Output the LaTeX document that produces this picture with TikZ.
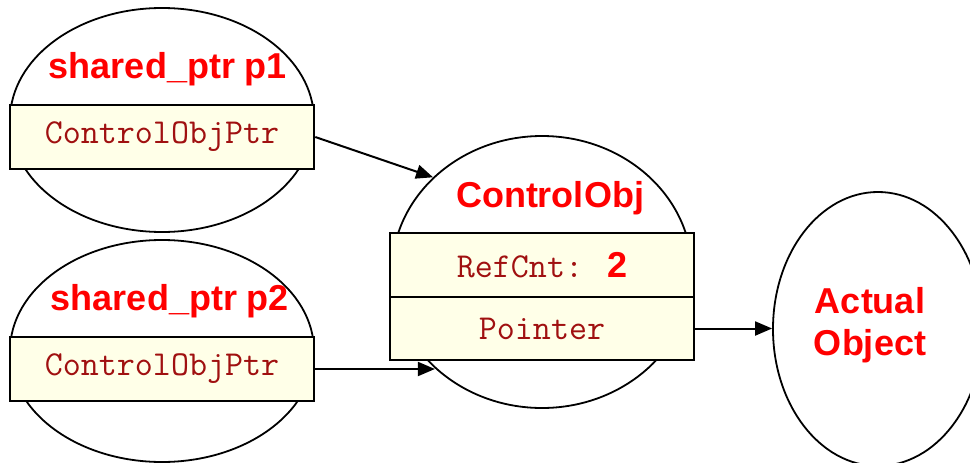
\documentclass[tikz,border=0pt]{standalone}
\usepackage{fontspec}
\setmainfont{Liberation Sans}
\usetikzlibrary{arrows.meta,shapes.geometric}
\definecolor{boxfill}{HTML}{FFFFE8}
\definecolor{codered}{HTML}{A01010}

\begin{document}
\begin{tikzpicture}[x=1pt,y=-1pt,>={Triangle[length=17pt,width=14pt]},
	blob/.style={ellipse,draw=black,line width=1.8pt,inner sep=0pt},
	field/.style={rectangle,draw=black,line width=2.5pt,fill=boxfill,minimum width=304pt,minimum height=64pt,inner sep=0pt,text=codered,font=\ttfamily\fontsize{35}{35}\selectfont},
	heading/.style={anchor=base,text=red,align=center,font=\bfseries\fontsize{36}{42}\selectfont},
	link/.style={->,line width=2pt}]
		\useasboundingbox (0,0) rectangle (970,463);
		
		% outlines
		\node[blob,minimum width=304pt,minimum height=224pt] (sp1) at (162,120) {};
		\node[blob,minimum width=304pt,minimum height=222pt] (sp2) at (162,351) {};
		\node[blob,minimum width=300pt,minimum height=272pt] (cobj) at (542,272) {};
		\node[blob,minimum width=210pt,minimum height=274pt] (act) at (878,329) {};
		
		% fields
		\node[field] (ptr1) at (162,137) {ControlObjPtr};
		\node[field] (ptr2) at (162,369) {ControlObjPtr};
		\node[field] (refcnt) at (542,265) {RefCnt: {\rmfamily\bfseries\fontsize{36}{36}\selectfont\color{red}2}};
		\node[field,minimum height=63pt] (pointer) at (542,328.5) {Pointer};
		
		% text
		\node[heading] (t1) at (168,78) {shared\_ptr p1};
		\node[heading] (t2) at (170,310) {shared\_ptr p2};
		\node[heading] (t3) at (550,207) {ControlObj};
		\node[heading] (t4) at (870,355) {Actual\\Object};
		
		% arrows
		\draw[link] (ptr1.east) -- (cobj.139.5);
		\draw[link] (ptr2.east) -- (ptr2.east -| cobj.222.7);
		\draw[link] (pointer.east) -- (pointer.east -| act.west);
	\end{tikzpicture}
\end{document}
